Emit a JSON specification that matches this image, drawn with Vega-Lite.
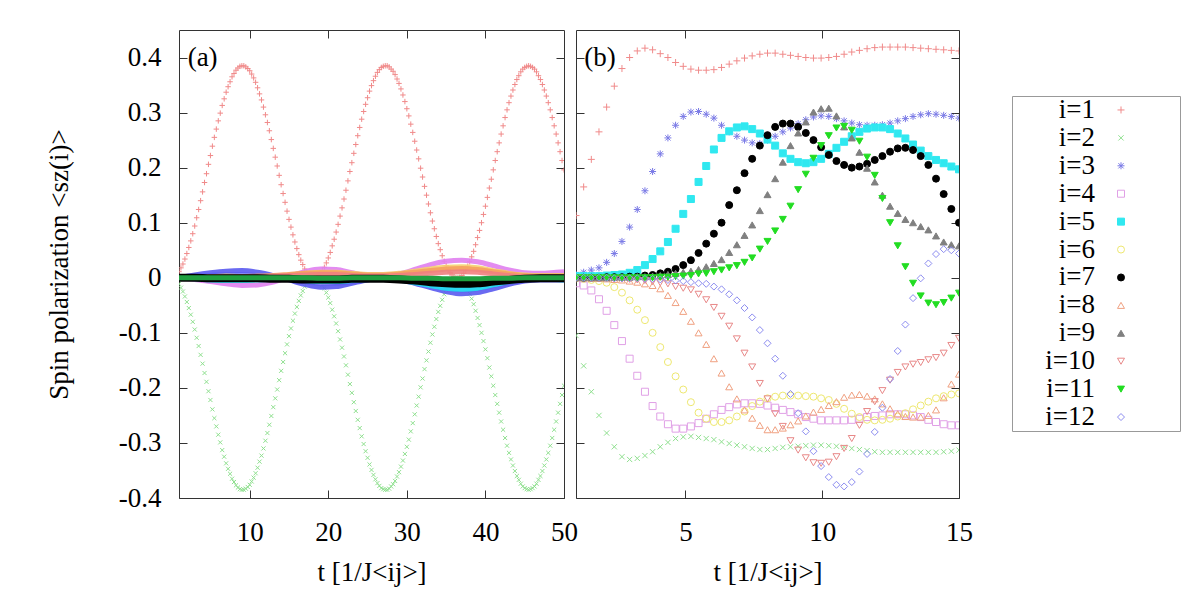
{
"$schema":"https://vega.github.io/schema/vega-lite/v6.json",
"background":"white",
"padding":{"left":44,"top":29,"right":5,"bottom":5},
"config":{"font":"Liberation Serif","view":{"stroke":"#333","strokeWidth":1},
"axis":{"labelFont":"Liberation Serif","titleFont":"Liberation Serif","labelFontSize":27,"titleFontSize":27,"titleFontWeight":"normal","labelColor":"#000","titleColor":"#000","tickColor":"#333","tickWidth":1,"tickSize":-8,"domain":false,"grid":false}},
"datasets":{
"leg":[{"i":1,"lab":"i=1"},{"i":2,"lab":"i=2"},{"i":3,"lab":"i=3"},{"i":4,"lab":"i=4"},{"i":5,"lab":"i=5"},{"i":6,"lab":"i=6"},{"i":7,"lab":"i=7"},{"i":8,"lab":"i=8"},{"i":9,"lab":"i=9"},{"i":10,"lab":"i=10"},{"i":11,"lab":"i=11"},{"i":12,"lab":"i=12"}],
"a":[
{"i":1,"t":1,"v":0.011},{"i":1,"t":1.25,"v":0.018},{"i":1,"t":1.5,"v":0.025},{"i":1,"t":1.75,"v":0.034},{"i":1,"t":2,"v":0.044},{"i":1,"t":2.25,"v":0.055},{"i":1,"t":2.5,"v":0.067},{"i":1,"t":2.75,"v":0.08},{"i":1,"t":3,"v":0.094},{"i":1,"t":3.25,"v":0.109},
{"i":1,"t":3.5,"v":0.124},{"i":1,"t":3.75,"v":0.14},{"i":1,"t":4,"v":0.156},{"i":1,"t":4.25,"v":0.173},{"i":1,"t":4.5,"v":0.189},{"i":1,"t":4.75,"v":0.206},{"i":1,"t":5,"v":0.222},{"i":1,"t":5.25,"v":0.239},{"i":1,"t":5.5,"v":0.255},{"i":1,"t":5.75,"v":0.27},
{"i":1,"t":6,"v":0.285},{"i":1,"t":6.25,"v":0.299},{"i":1,"t":6.5,"v":0.313},{"i":1,"t":6.75,"v":0.325},{"i":1,"t":7,"v":0.337},{"i":1,"t":7.25,"v":0.347},{"i":1,"t":7.5,"v":0.356},{"i":1,"t":7.75,"v":0.365},{"i":1,"t":8,"v":0.371},{"i":1,"t":8.25,"v":0.377},
{"i":1,"t":8.5,"v":0.381},{"i":1,"t":8.75,"v":0.384},{"i":1,"t":9,"v":0.385},{"i":1,"t":9.25,"v":0.385},{"i":1,"t":9.5,"v":0.383},{"i":1,"t":9.75,"v":0.38},{"i":1,"t":10,"v":0.376},{"i":1,"t":10.25,"v":0.37},{"i":1,"t":10.5,"v":0.363},{"i":1,"t":10.75,"v":0.355},
{"i":1,"t":11,"v":0.345},{"i":1,"t":11.25,"v":0.334},{"i":1,"t":11.5,"v":0.323},{"i":1,"t":11.75,"v":0.31},{"i":1,"t":12,"v":0.296},{"i":1,"t":12.25,"v":0.282},{"i":1,"t":12.5,"v":0.267},{"i":1,"t":12.75,"v":0.251},{"i":1,"t":13,"v":0.235},{"i":1,"t":13.25,"v":0.219},
{"i":1,"t":13.5,"v":0.203},{"i":1,"t":13.75,"v":0.186},{"i":1,"t":14,"v":0.169},{"i":1,"t":14.25,"v":0.153},{"i":1,"t":14.5,"v":0.137},{"i":1,"t":14.75,"v":0.121},{"i":1,"t":15,"v":0.106},{"i":1,"t":15.25,"v":0.092},{"i":1,"t":15.5,"v":0.078},{"i":1,"t":15.75,"v":0.065},
{"i":1,"t":16,"v":0.053},{"i":1,"t":16.25,"v":0.042},{"i":1,"t":16.5,"v":0.032},{"i":1,"t":16.75,"v":0.024},{"i":1,"t":17,"v":0.016},{"i":1,"t":17.25,"v":0.01},{"i":1,"t":17.5,"v":0.006},{"i":1,"t":17.75,"v":0.002},{"i":1,"t":18,"v":0.001},{"i":1,"t":18.25,"v":0},
{"i":1,"t":18.5,"v":0.001},{"i":1,"t":18.75,"v":0.004},{"i":1,"t":19,"v":0.007},{"i":1,"t":19.25,"v":0.013},{"i":1,"t":19.5,"v":0.019},{"i":1,"t":19.75,"v":0.027},{"i":1,"t":20,"v":0.036},{"i":1,"t":20.25,"v":0.046},{"i":1,"t":20.5,"v":0.058},{"i":1,"t":20.75,"v":0.07},
{"i":1,"t":21,"v":0.083},{"i":1,"t":21.25,"v":0.097},{"i":1,"t":21.5,"v":0.112},{"i":1,"t":21.75,"v":0.127},{"i":1,"t":22,"v":0.143},{"i":1,"t":22.25,"v":0.159},{"i":1,"t":22.5,"v":0.176},{"i":1,"t":22.75,"v":0.193},{"i":1,"t":23,"v":0.209},{"i":1,"t":23.25,"v":0.226},
{"i":1,"t":23.5,"v":0.242},{"i":1,"t":23.75,"v":0.258},{"i":1,"t":24,"v":0.273},{"i":1,"t":24.25,"v":0.288},{"i":1,"t":24.5,"v":0.302},{"i":1,"t":24.75,"v":0.315},{"i":1,"t":25,"v":0.327},{"i":1,"t":25.25,"v":0.339},{"i":1,"t":25.5,"v":0.349},{"i":1,"t":25.75,"v":0.358},
{"i":1,"t":26,"v":0.366},{"i":1,"t":26.25,"v":0.373},{"i":1,"t":26.5,"v":0.378},{"i":1,"t":26.75,"v":0.382},{"i":1,"t":27,"v":0.384},{"i":1,"t":27.25,"v":0.385},{"i":1,"t":27.5,"v":0.385},{"i":1,"t":27.75,"v":0.383},{"i":1,"t":28,"v":0.379},{"i":1,"t":28.25,"v":0.375},
{"i":1,"t":28.5,"v":0.369},{"i":1,"t":28.75,"v":0.361},{"i":1,"t":29,"v":0.353},{"i":1,"t":29.25,"v":0.343},{"i":1,"t":29.5,"v":0.332},{"i":1,"t":29.75,"v":0.32},{"i":1,"t":30,"v":0.307},{"i":1,"t":30.25,"v":0.294},{"i":1,"t":30.5,"v":0.279},{"i":1,"t":30.75,"v":0.264},
{"i":1,"t":31,"v":0.248},{"i":1,"t":31.25,"v":0.232},{"i":1,"t":31.5,"v":0.216},{"i":1,"t":31.75,"v":0.199},{"i":1,"t":32,"v":0.183},{"i":1,"t":32.25,"v":0.166},{"i":1,"t":32.5,"v":0.15},{"i":1,"t":32.75,"v":0.134},{"i":1,"t":33,"v":0.118},{"i":1,"t":33.25,"v":0.103},
{"i":1,"t":33.5,"v":0.089},{"i":1,"t":33.75,"v":0.075},{"i":1,"t":34,"v":0.062},{"i":1,"t":34.25,"v":0.051},{"i":1,"t":34.5,"v":0.04},{"i":1,"t":34.75,"v":0.03},{"i":1,"t":35,"v":0.022},{"i":1,"t":35.25,"v":0.015},{"i":1,"t":35.5,"v":0.009},{"i":1,"t":35.75,"v":0.005},
{"i":1,"t":36,"v":0.002},{"i":1,"t":36.25,"v":0},{"i":1,"t":36.5,"v":0},{"i":1,"t":36.75,"v":0.001},{"i":1,"t":37,"v":0.004},{"i":1,"t":37.25,"v":0.008},{"i":1,"t":37.5,"v":0.014},{"i":1,"t":37.75,"v":0.021},{"i":1,"t":38,"v":0.029},{"i":1,"t":38.25,"v":0.038},
{"i":1,"t":38.5,"v":0.048},{"i":1,"t":38.75,"v":0.06},{"i":1,"t":39,"v":0.073},{"i":1,"t":39.25,"v":0.086},{"i":1,"t":39.5,"v":0.1},{"i":1,"t":39.75,"v":0.115},{"i":1,"t":40,"v":0.13},{"i":1,"t":40.25,"v":0.146},{"i":1,"t":40.5,"v":0.163},{"i":1,"t":40.75,"v":0.179},
{"i":1,"t":41,"v":0.196},{"i":1,"t":41.25,"v":0.213},{"i":1,"t":41.5,"v":0.229},{"i":1,"t":41.75,"v":0.245},{"i":1,"t":42,"v":0.261},{"i":1,"t":42.25,"v":0.276},{"i":1,"t":42.5,"v":0.291},{"i":1,"t":42.75,"v":0.305},{"i":1,"t":43,"v":0.318},{"i":1,"t":43.25,"v":0.33},
{"i":1,"t":43.5,"v":0.341},{"i":1,"t":43.75,"v":0.351},{"i":1,"t":44,"v":0.36},{"i":1,"t":44.25,"v":0.367},{"i":1,"t":44.5,"v":0.374},{"i":1,"t":44.75,"v":0.379},{"i":1,"t":45,"v":0.382},{"i":1,"t":45.25,"v":0.384},{"i":1,"t":45.5,"v":0.385},{"i":1,"t":45.75,"v":0.384},
{"i":1,"t":46,"v":0.382},{"i":1,"t":46.25,"v":0.379},{"i":1,"t":46.5,"v":0.374},{"i":1,"t":46.75,"v":0.367},{"i":1,"t":47,"v":0.36},{"i":1,"t":47.25,"v":0.351},{"i":1,"t":47.5,"v":0.341},{"i":1,"t":47.75,"v":0.33},{"i":1,"t":48,"v":0.318},{"i":1,"t":48.25,"v":0.305},
{"i":1,"t":48.5,"v":0.291},{"i":1,"t":48.75,"v":0.276},{"i":1,"t":49,"v":0.261},{"i":1,"t":49.25,"v":0.245},{"i":1,"t":49.5,"v":0.229},{"i":1,"t":49.75,"v":0.213},{"i":1,"t":50,"v":0.196},
{"i":2,"t":1,"v":-0.011},{"i":2,"t":1.25,"v":-0.018},{"i":2,"t":1.5,"v":-0.025},{"i":2,"t":1.75,"v":-0.034},{"i":2,"t":2,"v":-0.044},{"i":2,"t":2.25,"v":-0.055},{"i":2,"t":2.5,"v":-0.067},{"i":2,"t":2.75,"v":-0.08},{"i":2,"t":3,"v":-0.094},{"i":2,"t":3.25,"v":-0.109},
{"i":2,"t":3.5,"v":-0.124},{"i":2,"t":3.75,"v":-0.14},{"i":2,"t":4,"v":-0.156},{"i":2,"t":4.25,"v":-0.173},{"i":2,"t":4.5,"v":-0.189},{"i":2,"t":4.75,"v":-0.206},{"i":2,"t":5,"v":-0.222},{"i":2,"t":5.25,"v":-0.239},{"i":2,"t":5.5,"v":-0.255},{"i":2,"t":5.75,"v":-0.27},
{"i":2,"t":6,"v":-0.285},{"i":2,"t":6.25,"v":-0.299},{"i":2,"t":6.5,"v":-0.313},{"i":2,"t":6.75,"v":-0.325},{"i":2,"t":7,"v":-0.337},{"i":2,"t":7.25,"v":-0.347},{"i":2,"t":7.5,"v":-0.356},{"i":2,"t":7.75,"v":-0.365},{"i":2,"t":8,"v":-0.371},{"i":2,"t":8.25,"v":-0.377},
{"i":2,"t":8.5,"v":-0.381},{"i":2,"t":8.75,"v":-0.384},{"i":2,"t":9,"v":-0.385},{"i":2,"t":9.25,"v":-0.385},{"i":2,"t":9.5,"v":-0.383},{"i":2,"t":9.75,"v":-0.38},{"i":2,"t":10,"v":-0.376},{"i":2,"t":10.25,"v":-0.37},{"i":2,"t":10.5,"v":-0.363},{"i":2,"t":10.75,"v":-0.355},
{"i":2,"t":11,"v":-0.345},{"i":2,"t":11.25,"v":-0.334},{"i":2,"t":11.5,"v":-0.323},{"i":2,"t":11.75,"v":-0.31},{"i":2,"t":12,"v":-0.296},{"i":2,"t":12.25,"v":-0.282},{"i":2,"t":12.5,"v":-0.267},{"i":2,"t":12.75,"v":-0.251},{"i":2,"t":13,"v":-0.235},{"i":2,"t":13.25,"v":-0.219},
{"i":2,"t":13.5,"v":-0.203},{"i":2,"t":13.75,"v":-0.186},{"i":2,"t":14,"v":-0.169},{"i":2,"t":14.25,"v":-0.153},{"i":2,"t":14.5,"v":-0.137},{"i":2,"t":14.75,"v":-0.121},{"i":2,"t":15,"v":-0.106},{"i":2,"t":15.25,"v":-0.092},{"i":2,"t":15.5,"v":-0.078},{"i":2,"t":15.75,"v":-0.065},
{"i":2,"t":16,"v":-0.053},{"i":2,"t":16.25,"v":-0.042},{"i":2,"t":16.5,"v":-0.032},{"i":2,"t":16.75,"v":-0.024},{"i":2,"t":17,"v":-0.016},{"i":2,"t":17.25,"v":-0.01},{"i":2,"t":17.5,"v":-0.006},{"i":2,"t":17.75,"v":-0.002},{"i":2,"t":18,"v":-0.001},{"i":2,"t":18.25,"v":0},
{"i":2,"t":18.5,"v":-0.001},{"i":2,"t":18.75,"v":-0.004},{"i":2,"t":19,"v":-0.007},{"i":2,"t":19.25,"v":-0.013},{"i":2,"t":19.5,"v":-0.019},{"i":2,"t":19.75,"v":-0.027},{"i":2,"t":20,"v":-0.036},{"i":2,"t":20.25,"v":-0.046},{"i":2,"t":20.5,"v":-0.058},{"i":2,"t":20.75,"v":-0.07},
{"i":2,"t":21,"v":-0.083},{"i":2,"t":21.25,"v":-0.097},{"i":2,"t":21.5,"v":-0.112},{"i":2,"t":21.75,"v":-0.127},{"i":2,"t":22,"v":-0.143},{"i":2,"t":22.25,"v":-0.159},{"i":2,"t":22.5,"v":-0.176},{"i":2,"t":22.75,"v":-0.193},{"i":2,"t":23,"v":-0.209},{"i":2,"t":23.25,"v":-0.226},
{"i":2,"t":23.5,"v":-0.242},{"i":2,"t":23.75,"v":-0.258},{"i":2,"t":24,"v":-0.273},{"i":2,"t":24.25,"v":-0.288},{"i":2,"t":24.5,"v":-0.302},{"i":2,"t":24.75,"v":-0.315},{"i":2,"t":25,"v":-0.327},{"i":2,"t":25.25,"v":-0.339},{"i":2,"t":25.5,"v":-0.349},{"i":2,"t":25.75,"v":-0.358},
{"i":2,"t":26,"v":-0.366},{"i":2,"t":26.25,"v":-0.373},{"i":2,"t":26.5,"v":-0.378},{"i":2,"t":26.75,"v":-0.382},{"i":2,"t":27,"v":-0.384},{"i":2,"t":27.25,"v":-0.385},{"i":2,"t":27.5,"v":-0.385},{"i":2,"t":27.75,"v":-0.383},{"i":2,"t":28,"v":-0.379},{"i":2,"t":28.25,"v":-0.375},
{"i":2,"t":28.5,"v":-0.369},{"i":2,"t":28.75,"v":-0.361},{"i":2,"t":29,"v":-0.353},{"i":2,"t":29.25,"v":-0.343},{"i":2,"t":29.5,"v":-0.332},{"i":2,"t":29.75,"v":-0.32},{"i":2,"t":30,"v":-0.307},{"i":2,"t":30.25,"v":-0.294},{"i":2,"t":30.5,"v":-0.279},{"i":2,"t":30.75,"v":-0.264},
{"i":2,"t":31,"v":-0.248},{"i":2,"t":31.25,"v":-0.232},{"i":2,"t":31.5,"v":-0.216},{"i":2,"t":31.75,"v":-0.199},{"i":2,"t":32,"v":-0.183},{"i":2,"t":32.25,"v":-0.166},{"i":2,"t":32.5,"v":-0.15},{"i":2,"t":32.75,"v":-0.134},{"i":2,"t":33,"v":-0.118},{"i":2,"t":33.25,"v":-0.103},
{"i":2,"t":33.5,"v":-0.089},{"i":2,"t":33.75,"v":-0.075},{"i":2,"t":34,"v":-0.062},{"i":2,"t":34.25,"v":-0.051},{"i":2,"t":34.5,"v":-0.04},{"i":2,"t":34.75,"v":-0.03},{"i":2,"t":35,"v":-0.022},{"i":2,"t":35.25,"v":-0.015},{"i":2,"t":35.5,"v":-0.009},{"i":2,"t":35.75,"v":-0.005},
{"i":2,"t":36,"v":-0.002},{"i":2,"t":36.25,"v":0},{"i":2,"t":36.5,"v":0},{"i":2,"t":36.75,"v":-0.001},{"i":2,"t":37,"v":-0.004},{"i":2,"t":37.25,"v":-0.008},{"i":2,"t":37.5,"v":-0.014},{"i":2,"t":37.75,"v":-0.021},{"i":2,"t":38,"v":-0.029},{"i":2,"t":38.25,"v":-0.038},
{"i":2,"t":38.5,"v":-0.048},{"i":2,"t":38.75,"v":-0.06},{"i":2,"t":39,"v":-0.073},{"i":2,"t":39.25,"v":-0.086},{"i":2,"t":39.5,"v":-0.1},{"i":2,"t":39.75,"v":-0.115},{"i":2,"t":40,"v":-0.13},{"i":2,"t":40.25,"v":-0.146},{"i":2,"t":40.5,"v":-0.163},{"i":2,"t":40.75,"v":-0.179},
{"i":2,"t":41,"v":-0.196},{"i":2,"t":41.25,"v":-0.213},{"i":2,"t":41.5,"v":-0.229},{"i":2,"t":41.75,"v":-0.245},{"i":2,"t":42,"v":-0.261},{"i":2,"t":42.25,"v":-0.276},{"i":2,"t":42.5,"v":-0.291},{"i":2,"t":42.75,"v":-0.305},{"i":2,"t":43,"v":-0.318},{"i":2,"t":43.25,"v":-0.33},
{"i":2,"t":43.5,"v":-0.341},{"i":2,"t":43.75,"v":-0.351},{"i":2,"t":44,"v":-0.36},{"i":2,"t":44.25,"v":-0.367},{"i":2,"t":44.5,"v":-0.374},{"i":2,"t":44.75,"v":-0.379},{"i":2,"t":45,"v":-0.382},{"i":2,"t":45.25,"v":-0.384},{"i":2,"t":45.5,"v":-0.385},{"i":2,"t":45.75,"v":-0.384},
{"i":2,"t":46,"v":-0.382},{"i":2,"t":46.25,"v":-0.379},{"i":2,"t":46.5,"v":-0.374},{"i":2,"t":46.75,"v":-0.367},{"i":2,"t":47,"v":-0.36},{"i":2,"t":47.25,"v":-0.351},{"i":2,"t":47.5,"v":-0.341},{"i":2,"t":47.75,"v":-0.33},{"i":2,"t":48,"v":-0.318},{"i":2,"t":48.25,"v":-0.305},
{"i":2,"t":48.5,"v":-0.291},{"i":2,"t":48.75,"v":-0.276},{"i":2,"t":49,"v":-0.261},{"i":2,"t":49.25,"v":-0.245},{"i":2,"t":49.5,"v":-0.229},{"i":2,"t":49.75,"v":-0.213},{"i":2,"t":50,"v":-0.196}
],
"al":[
{"i":12,"t":1,"v":0},{"i":12,"t":3,"v":0.002},{"i":12,"t":5,"v":0.004},{"i":12,"t":7,"v":0.006},{"i":12,"t":9,"v":0.006},{"i":12,"t":11,"v":0.004},{"i":12,"t":13,"v":0.001},{"i":12,"t":15,"v":-0.003},{"i":12,"t":17,"v":-0.007},{"i":12,"t":19,"v":-0.01},{"i":12,"t":21,"v":-0.01},{"i":12,"t":23,"v":-0.007},{"i":12,"t":25,"v":-0.003},{"i":12,"t":27,"v":-0.001},{"i":12,"t":29,"v":-0.003},{"i":12,"t":31,"v":-0.008},{"i":12,"t":33,"v":-0.014},{"i":12,"t":35,"v":-0.019},{"i":12,"t":37,"v":-0.022},{"i":12,"t":39,"v":-0.02},{"i":12,"t":41,"v":-0.014},{"i":12,"t":43,"v":-0.008},{"i":12,"t":45,"v":-0.004},{"i":12,"t":47,"v":-0.002},{"i":12,"t":49,"v":-0.002},{"i":12,"t":50,"v":-0.002},
{"i":3,"t":1,"v":0},{"i":3,"t":3,"v":0.005},{"i":3,"t":5,"v":0.009},{"i":3,"t":7,"v":0.012},{"i":3,"t":9,"v":0.013},{"i":3,"t":11,"v":0.01},{"i":3,"t":13,"v":0.004},{"i":3,"t":15,"v":-0.004},{"i":3,"t":17,"v":-0.012},{"i":3,"t":19,"v":-0.017},{"i":3,"t":21,"v":-0.016},{"i":3,"t":23,"v":-0.01},{"i":3,"t":25,"v":-0.004},{"i":3,"t":27,"v":0},{"i":3,"t":29,"v":-0.003},{"i":3,"t":31,"v":-0.01},{"i":3,"t":33,"v":-0.018},{"i":3,"t":35,"v":-0.025},{"i":3,"t":37,"v":-0.029},{"i":3,"t":39,"v":-0.027},{"i":3,"t":41,"v":-0.02},{"i":3,"t":43,"v":-0.012},{"i":3,"t":45,"v":-0.006},{"i":3,"t":47,"v":-0.004},{"i":3,"t":49,"v":-0.004},{"i":3,"t":50,"v":-0.004},
{"i":4,"t":1,"v":0},{"i":4,"t":3,"v":-0.003},{"i":4,"t":5,"v":-0.007},{"i":4,"t":7,"v":-0.011},{"i":4,"t":9,"v":-0.014},{"i":4,"t":11,"v":-0.013},{"i":4,"t":13,"v":-0.008},{"i":4,"t":15,"v":0.002},{"i":4,"t":17,"v":0.011},{"i":4,"t":19,"v":0.016},{"i":4,"t":21,"v":0.015},{"i":4,"t":23,"v":0.009},{"i":4,"t":25,"v":0.004},{"i":4,"t":27,"v":0.003},{"i":4,"t":29,"v":0.007},{"i":4,"t":31,"v":0.015},{"i":4,"t":33,"v":0.024},{"i":4,"t":35,"v":0.03},{"i":4,"t":37,"v":0.032},{"i":4,"t":39,"v":0.029},{"i":4,"t":41,"v":0.022},{"i":4,"t":43,"v":0.014},{"i":4,"t":45,"v":0.009},{"i":4,"t":47,"v":0.008},{"i":4,"t":49,"v":0.01},{"i":4,"t":50,"v":0.011},
{"i":6,"t":1,"v":0},{"i":6,"t":3,"v":0.001},{"i":6,"t":5,"v":0.002},{"i":6,"t":7,"v":0.003},{"i":6,"t":9,"v":0.002},{"i":6,"t":11,"v":0.001},{"i":6,"t":13,"v":0.002},{"i":6,"t":15,"v":0.005},{"i":6,"t":17,"v":0.008},{"i":6,"t":19,"v":0.01},{"i":6,"t":21,"v":0.01},{"i":6,"t":23,"v":0.008},{"i":6,"t":25,"v":0.006},{"i":6,"t":27,"v":0.006},{"i":6,"t":29,"v":0.008},{"i":6,"t":31,"v":0.012},{"i":6,"t":33,"v":0.016},{"i":6,"t":35,"v":0.019},{"i":6,"t":37,"v":0.02},{"i":6,"t":39,"v":0.018},{"i":6,"t":41,"v":0.013},{"i":6,"t":43,"v":0.008},{"i":6,"t":45,"v":0.005},{"i":6,"t":47,"v":0.004},{"i":6,"t":49,"v":0.004},{"i":6,"t":50,"v":0.004},
{"i":8,"t":1,"v":0},{"i":8,"t":3,"v":0},{"i":8,"t":5,"v":0.001},{"i":8,"t":7,"v":0.002},{"i":8,"t":9,"v":0.002},{"i":8,"t":11,"v":0.003},{"i":8,"t":13,"v":0.004},{"i":8,"t":15,"v":0.006},{"i":8,"t":17,"v":0.008},{"i":8,"t":19,"v":0.009},{"i":8,"t":21,"v":0.009},{"i":8,"t":23,"v":0.007},{"i":8,"t":25,"v":0.005},{"i":8,"t":27,"v":0.005},{"i":8,"t":29,"v":0.007},{"i":8,"t":31,"v":0.01},{"i":8,"t":33,"v":0.013},{"i":8,"t":35,"v":0.016},{"i":8,"t":37,"v":0.017},{"i":8,"t":39,"v":0.015},{"i":8,"t":41,"v":0.011},{"i":8,"t":43,"v":0.007},{"i":8,"t":45,"v":0.004},{"i":8,"t":47,"v":0.003},{"i":8,"t":49,"v":0.003},{"i":8,"t":50,"v":0.003},
{"i":10,"t":1,"v":0},{"i":10,"t":3,"v":0},{"i":10,"t":5,"v":0.001},{"i":10,"t":7,"v":0.001},{"i":10,"t":9,"v":0.001},{"i":10,"t":11,"v":0.002},{"i":10,"t":13,"v":0.003},{"i":10,"t":15,"v":0.004},{"i":10,"t":17,"v":0.005},{"i":10,"t":19,"v":0.006},{"i":10,"t":21,"v":0.006},{"i":10,"t":23,"v":0.004},{"i":10,"t":25,"v":0.003},{"i":10,"t":27,"v":0.003},{"i":10,"t":29,"v":0.004},{"i":10,"t":31,"v":0.006},{"i":10,"t":33,"v":0.008},{"i":10,"t":35,"v":0.01},{"i":10,"t":37,"v":0.011},{"i":10,"t":39,"v":0.01},{"i":10,"t":41,"v":0.007},{"i":10,"t":43,"v":0.004},{"i":10,"t":45,"v":0.002},{"i":10,"t":47,"v":0.002},{"i":10,"t":49,"v":0.002},{"i":10,"t":50,"v":0.002},
{"i":5,"t":1,"v":0},{"i":5,"t":3,"v":-0.002},{"i":5,"t":5,"v":-0.004},{"i":5,"t":7,"v":-0.005},{"i":5,"t":9,"v":-0.005},{"i":5,"t":11,"v":-0.004},{"i":5,"t":13,"v":-0.003},{"i":5,"t":15,"v":-0.003},{"i":5,"t":17,"v":-0.005},{"i":5,"t":19,"v":-0.007},{"i":5,"t":21,"v":-0.007},{"i":5,"t":23,"v":-0.005},{"i":5,"t":25,"v":-0.003},{"i":5,"t":27,"v":-0.002},{"i":5,"t":29,"v":-0.004},{"i":5,"t":31,"v":-0.009},{"i":5,"t":33,"v":-0.014},{"i":5,"t":35,"v":-0.019},{"i":5,"t":37,"v":-0.021},{"i":5,"t":39,"v":-0.019},{"i":5,"t":41,"v":-0.013},{"i":5,"t":43,"v":-0.007},{"i":5,"t":45,"v":-0.003},{"i":5,"t":47,"v":-0.002},{"i":5,"t":49,"v":-0.003},{"i":5,"t":50,"v":-0.004},
{"i":9,"t":1,"v":0},{"i":9,"t":3,"v":0},{"i":9,"t":5,"v":0},{"i":9,"t":7,"v":0.001},{"i":9,"t":9,"v":0.001},{"i":9,"t":11,"v":0.001},{"i":9,"t":13,"v":0.001},{"i":9,"t":15,"v":0},{"i":9,"t":17,"v":-0.001},{"i":9,"t":19,"v":-0.002},{"i":9,"t":21,"v":-0.002},{"i":9,"t":23,"v":-0.001},{"i":9,"t":25,"v":0},{"i":9,"t":27,"v":0},{"i":9,"t":29,"v":-0.001},{"i":9,"t":31,"v":-0.002},{"i":9,"t":33,"v":-0.003},{"i":9,"t":35,"v":-0.004},{"i":9,"t":37,"v":-0.005},{"i":9,"t":39,"v":-0.004},{"i":9,"t":41,"v":-0.003},{"i":9,"t":43,"v":-0.002},{"i":9,"t":45,"v":-0.001},{"i":9,"t":47,"v":0},{"i":9,"t":49,"v":0},{"i":9,"t":50,"v":0},
{"i":7,"t":1,"v":0},{"i":7,"t":3,"v":0},{"i":7,"t":5,"v":-0.001},{"i":7,"t":7,"v":-0.001},{"i":7,"t":9,"v":-0.001},{"i":7,"t":11,"v":-0.001},{"i":7,"t":13,"v":-0.002},{"i":7,"t":15,"v":-0.002},{"i":7,"t":17,"v":-0.003},{"i":7,"t":19,"v":-0.003},{"i":7,"t":21,"v":-0.003},{"i":7,"t":23,"v":-0.002},{"i":7,"t":25,"v":-0.002},{"i":7,"t":27,"v":-0.002},{"i":7,"t":29,"v":-0.003},{"i":7,"t":31,"v":-0.005},{"i":7,"t":33,"v":-0.008},{"i":7,"t":35,"v":-0.01},{"i":7,"t":37,"v":-0.011},{"i":7,"t":39,"v":-0.01},{"i":7,"t":41,"v":-0.007},{"i":7,"t":43,"v":-0.004},{"i":7,"t":45,"v":-0.002},{"i":7,"t":47,"v":-0.001},{"i":7,"t":49,"v":-0.001},{"i":7,"t":50,"v":-0.001},
{"i":11,"t":1,"v":0},{"i":11,"t":3,"v":0},{"i":11,"t":5,"v":0},{"i":11,"t":7,"v":0},{"i":11,"t":9,"v":0},{"i":11,"t":11,"v":0},{"i":11,"t":13,"v":0},{"i":11,"t":15,"v":0},{"i":11,"t":17,"v":0},{"i":11,"t":19,"v":-0.001},{"i":11,"t":21,"v":-0.001},{"i":11,"t":23,"v":0},{"i":11,"t":25,"v":0},{"i":11,"t":27,"v":0},{"i":11,"t":29,"v":0},{"i":11,"t":31,"v":-0.001},{"i":11,"t":33,"v":-0.001},{"i":11,"t":35,"v":-0.002},{"i":11,"t":37,"v":-0.002},{"i":11,"t":39,"v":-0.002},{"i":11,"t":41,"v":-0.001},{"i":11,"t":43,"v":-0.001},{"i":11,"t":45,"v":0},{"i":11,"t":47,"v":0},{"i":11,"t":49,"v":0},{"i":11,"t":50,"v":0}
],
"b":[
{"i":1,"t":1,"v":0.113},{"i":1,"t":1.28,"v":0.165},{"i":1,"t":1.56,"v":0.215},{"i":1,"t":1.84,"v":0.265},{"i":1,"t":2.12,"v":0.31},{"i":1,"t":2.4,"v":0.348},{"i":1,"t":2.68,"v":0.38},{"i":1,"t":2.96,"v":0.4},{"i":1,"t":3.24,"v":0.412},{"i":1,"t":3.52,"v":0.417},
{"i":1,"t":3.8,"v":0.414},{"i":1,"t":4.08,"v":0.407},{"i":1,"t":4.36,"v":0.4},{"i":1,"t":4.64,"v":0.391},{"i":1,"t":4.92,"v":0.384},{"i":1,"t":5.2,"v":0.379},{"i":1,"t":5.48,"v":0.377},{"i":1,"t":5.76,"v":0.377},{"i":1,"t":6.04,"v":0.378},{"i":1,"t":6.32,"v":0.382},
{"i":1,"t":6.6,"v":0.388},{"i":1,"t":6.88,"v":0.394},{"i":1,"t":7.16,"v":0.399},{"i":1,"t":7.44,"v":0.403},{"i":1,"t":7.72,"v":0.406},{"i":1,"t":8,"v":0.408},{"i":1,"t":8.28,"v":0.408},{"i":1,"t":8.56,"v":0.406},{"i":1,"t":8.84,"v":0.404},{"i":1,"t":9.12,"v":0.402},
{"i":1,"t":9.4,"v":0.4},{"i":1,"t":9.68,"v":0.399},{"i":1,"t":9.96,"v":0.399},{"i":1,"t":10.24,"v":0.4},{"i":1,"t":10.52,"v":0.402},{"i":1,"t":10.8,"v":0.406},{"i":1,"t":11.08,"v":0.41},{"i":1,"t":11.36,"v":0.413},{"i":1,"t":11.64,"v":0.416},{"i":1,"t":11.92,"v":0.418},
{"i":1,"t":12.2,"v":0.419},{"i":1,"t":12.48,"v":0.419},{"i":1,"t":12.76,"v":0.419},{"i":1,"t":13.04,"v":0.419},{"i":1,"t":13.32,"v":0.418},{"i":1,"t":13.6,"v":0.417},{"i":1,"t":13.88,"v":0.416},{"i":1,"t":14.16,"v":0.415},{"i":1,"t":14.44,"v":0.414},{"i":1,"t":14.72,"v":0.413},{"i":1,"t":15,"v":0.412},
{"i":2,"t":1,"v":-0.105},{"i":2,"t":1.28,"v":-0.16},{"i":2,"t":1.56,"v":-0.207},{"i":2,"t":1.84,"v":-0.25},{"i":2,"t":2.12,"v":-0.282},{"i":2,"t":2.4,"v":-0.307},{"i":2,"t":2.68,"v":-0.325},{"i":2,"t":2.96,"v":-0.33},{"i":2,"t":3.24,"v":-0.328},{"i":2,"t":3.52,"v":-0.323},
{"i":2,"t":3.8,"v":-0.316},{"i":2,"t":4.08,"v":-0.307},{"i":2,"t":4.36,"v":-0.299},{"i":2,"t":4.64,"v":-0.292},{"i":2,"t":4.92,"v":-0.289},{"i":2,"t":5.2,"v":-0.288},{"i":2,"t":5.48,"v":-0.29},{"i":2,"t":5.76,"v":-0.292},{"i":2,"t":6.04,"v":-0.294},{"i":2,"t":6.32,"v":-0.298},
{"i":2,"t":6.6,"v":-0.301},{"i":2,"t":6.88,"v":-0.304},{"i":2,"t":7.16,"v":-0.307},{"i":2,"t":7.44,"v":-0.31},{"i":2,"t":7.72,"v":-0.312},{"i":2,"t":8,"v":-0.312},{"i":2,"t":8.28,"v":-0.31},{"i":2,"t":8.56,"v":-0.308},{"i":2,"t":8.84,"v":-0.307},{"i":2,"t":9.12,"v":-0.306},
{"i":2,"t":9.4,"v":-0.305},{"i":2,"t":9.68,"v":-0.304},{"i":2,"t":9.96,"v":-0.304},{"i":2,"t":10.24,"v":-0.305},{"i":2,"t":10.52,"v":-0.306},{"i":2,"t":10.8,"v":-0.308},{"i":2,"t":11.08,"v":-0.31},{"i":2,"t":11.36,"v":-0.312},{"i":2,"t":11.64,"v":-0.314},{"i":2,"t":11.92,"v":-0.316},
{"i":2,"t":12.2,"v":-0.317},{"i":2,"t":12.48,"v":-0.317},{"i":2,"t":12.76,"v":-0.317},{"i":2,"t":13.04,"v":-0.317},{"i":2,"t":13.32,"v":-0.317},{"i":2,"t":13.6,"v":-0.317},{"i":2,"t":13.88,"v":-0.317},{"i":2,"t":14.16,"v":-0.317},{"i":2,"t":14.44,"v":-0.316},{"i":2,"t":14.72,"v":-0.315},{"i":2,"t":15,"v":-0.313},
{"i":3,"t":1,"v":0.006},{"i":3,"t":1.28,"v":0.01},{"i":3,"t":1.56,"v":0.014},{"i":3,"t":1.84,"v":0.018},{"i":3,"t":2.12,"v":0.028},{"i":3,"t":2.4,"v":0.044},{"i":3,"t":2.68,"v":0.066},{"i":3,"t":2.96,"v":0.092},{"i":3,"t":3.24,"v":0.124},{"i":3,"t":3.52,"v":0.158},
{"i":3,"t":3.8,"v":0.193},{"i":3,"t":4.08,"v":0.225},{"i":3,"t":4.36,"v":0.254},{"i":3,"t":4.64,"v":0.277},{"i":3,"t":4.92,"v":0.293},{"i":3,"t":5.2,"v":0.301},{"i":3,"t":5.48,"v":0.302},{"i":3,"t":5.76,"v":0.297},{"i":3,"t":6.04,"v":0.29},{"i":3,"t":6.32,"v":0.277},
{"i":3,"t":6.6,"v":0.265},{"i":3,"t":6.88,"v":0.257},{"i":3,"t":7.16,"v":0.25},{"i":3,"t":7.44,"v":0.245},{"i":3,"t":7.72,"v":0.244},{"i":3,"t":8,"v":0.25},{"i":3,"t":8.28,"v":0.257},{"i":3,"t":8.56,"v":0.265},{"i":3,"t":8.84,"v":0.272},{"i":3,"t":9.12,"v":0.28},
{"i":3,"t":9.4,"v":0.287},{"i":3,"t":9.68,"v":0.292},{"i":3,"t":9.96,"v":0.294},{"i":3,"t":10.24,"v":0.293},{"i":3,"t":10.52,"v":0.289},{"i":3,"t":10.8,"v":0.285},{"i":3,"t":11.08,"v":0.281},{"i":3,"t":11.36,"v":0.278},{"i":3,"t":11.64,"v":0.277},{"i":3,"t":11.92,"v":0.277},
{"i":3,"t":12.2,"v":0.278},{"i":3,"t":12.48,"v":0.281},{"i":3,"t":12.76,"v":0.285},{"i":3,"t":13.04,"v":0.289},{"i":3,"t":13.32,"v":0.293},{"i":3,"t":13.6,"v":0.296},{"i":3,"t":13.88,"v":0.298},{"i":3,"t":14.16,"v":0.297},{"i":3,"t":14.44,"v":0.295},{"i":3,"t":14.72,"v":0.293},{"i":3,"t":15,"v":0.29},
{"i":4,"t":1,"v":-0.01},{"i":4,"t":1.28,"v":-0.014},{"i":4,"t":1.56,"v":-0.023},{"i":4,"t":1.84,"v":-0.039},{"i":4,"t":2.12,"v":-0.06},{"i":4,"t":2.4,"v":-0.086},{"i":4,"t":2.68,"v":-0.115},{"i":4,"t":2.96,"v":-0.147},{"i":4,"t":3.24,"v":-0.178},{"i":4,"t":3.52,"v":-0.207},
{"i":4,"t":3.8,"v":-0.233},{"i":4,"t":4.08,"v":-0.252},{"i":4,"t":4.36,"v":-0.266},{"i":4,"t":4.64,"v":-0.274},{"i":4,"t":4.92,"v":-0.274},{"i":4,"t":5.2,"v":-0.27},{"i":4,"t":5.48,"v":-0.264},{"i":4,"t":5.76,"v":-0.256},{"i":4,"t":6.04,"v":-0.248},{"i":4,"t":6.32,"v":-0.24},
{"i":4,"t":6.6,"v":-0.235},{"i":4,"t":6.88,"v":-0.23},{"i":4,"t":7.16,"v":-0.228},{"i":4,"t":7.44,"v":-0.228},{"i":4,"t":7.72,"v":-0.229},{"i":4,"t":8,"v":-0.232},{"i":4,"t":8.28,"v":-0.236},{"i":4,"t":8.56,"v":-0.24},{"i":4,"t":8.84,"v":-0.244},{"i":4,"t":9.12,"v":-0.248},
{"i":4,"t":9.4,"v":-0.253},{"i":4,"t":9.68,"v":-0.256},{"i":4,"t":9.96,"v":-0.259},{"i":4,"t":10.24,"v":-0.259},{"i":4,"t":10.52,"v":-0.259},{"i":4,"t":10.8,"v":-0.259},{"i":4,"t":11.08,"v":-0.258},{"i":4,"t":11.36,"v":-0.256},{"i":4,"t":11.64,"v":-0.253},{"i":4,"t":11.92,"v":-0.251},
{"i":4,"t":12.2,"v":-0.25},{"i":4,"t":12.48,"v":-0.248},{"i":4,"t":12.76,"v":-0.248},{"i":4,"t":13.04,"v":-0.248},{"i":4,"t":13.32,"v":-0.25},{"i":4,"t":13.6,"v":-0.253},{"i":4,"t":13.88,"v":-0.258},{"i":4,"t":14.16,"v":-0.262},{"i":4,"t":14.44,"v":-0.266},{"i":4,"t":14.72,"v":-0.268},{"i":4,"t":15,"v":-0.268},
{"i":5,"t":1,"v":0.003},{"i":5,"t":1.28,"v":0.003},{"i":5,"t":1.56,"v":0.003},{"i":5,"t":1.84,"v":0.003},{"i":5,"t":2.12,"v":0.004},{"i":5,"t":2.4,"v":0.005},{"i":5,"t":2.68,"v":0.006},{"i":5,"t":2.96,"v":0.009},{"i":5,"t":3.24,"v":0.014},{"i":5,"t":3.52,"v":0.023},
{"i":5,"t":3.8,"v":0.034},{"i":5,"t":4.08,"v":0.048},{"i":5,"t":4.36,"v":0.065},{"i":5,"t":4.64,"v":0.089},{"i":5,"t":4.92,"v":0.116},{"i":5,"t":5.2,"v":0.143},{"i":5,"t":5.48,"v":0.174},{"i":5,"t":5.76,"v":0.203},{"i":5,"t":6.04,"v":0.233},{"i":5,"t":6.32,"v":0.254},
{"i":5,"t":6.6,"v":0.266},{"i":5,"t":6.88,"v":0.273},{"i":5,"t":7.16,"v":0.275},{"i":5,"t":7.44,"v":0.27},{"i":5,"t":7.72,"v":0.262},{"i":5,"t":8,"v":0.251},{"i":5,"t":8.28,"v":0.24},{"i":5,"t":8.56,"v":0.226},{"i":5,"t":8.84,"v":0.216},{"i":5,"t":9.12,"v":0.21},
{"i":5,"t":9.4,"v":0.208},{"i":5,"t":9.68,"v":0.21},{"i":5,"t":9.96,"v":0.216},{"i":5,"t":10.24,"v":0.225},{"i":5,"t":10.52,"v":0.236},{"i":5,"t":10.8,"v":0.247},{"i":5,"t":11.08,"v":0.257},{"i":5,"t":11.36,"v":0.265},{"i":5,"t":11.64,"v":0.271},{"i":5,"t":11.92,"v":0.273},
{"i":5,"t":12.2,"v":0.273},{"i":5,"t":12.48,"v":0.27},{"i":5,"t":12.76,"v":0.262},{"i":5,"t":13.04,"v":0.253},{"i":5,"t":13.32,"v":0.242},{"i":5,"t":13.6,"v":0.231},{"i":5,"t":13.88,"v":0.221},{"i":5,"t":14.16,"v":0.214},{"i":5,"t":14.44,"v":0.208},{"i":5,"t":14.72,"v":0.202},{"i":5,"t":15,"v":0.197},
{"i":6,"t":1,"v":-0.001},{"i":6,"t":1.28,"v":-0.002},{"i":6,"t":1.56,"v":-0.004},{"i":6,"t":1.84,"v":-0.006},{"i":6,"t":2.12,"v":-0.009},{"i":6,"t":2.4,"v":-0.017},{"i":6,"t":2.68,"v":-0.027},{"i":6,"t":2.96,"v":-0.041},{"i":6,"t":3.24,"v":-0.058},{"i":6,"t":3.52,"v":-0.077},
{"i":6,"t":3.8,"v":-0.1},{"i":6,"t":4.08,"v":-0.126},{"i":6,"t":4.36,"v":-0.153},{"i":6,"t":4.64,"v":-0.179},{"i":6,"t":4.92,"v":-0.203},{"i":6,"t":5.2,"v":-0.226},{"i":6,"t":5.48,"v":-0.245},{"i":6,"t":5.76,"v":-0.256},{"i":6,"t":6.04,"v":-0.262},{"i":6,"t":6.32,"v":-0.262},
{"i":6,"t":6.6,"v":-0.259},{"i":6,"t":6.88,"v":-0.252},{"i":6,"t":7.16,"v":-0.243},{"i":6,"t":7.44,"v":-0.233},{"i":6,"t":7.72,"v":-0.225},{"i":6,"t":8,"v":-0.219},{"i":6,"t":8.28,"v":-0.216},{"i":6,"t":8.56,"v":-0.214},{"i":6,"t":8.84,"v":-0.214},{"i":6,"t":9.12,"v":-0.214},
{"i":6,"t":9.4,"v":-0.215},{"i":6,"t":9.68,"v":-0.216},{"i":6,"t":9.96,"v":-0.219},{"i":6,"t":10.24,"v":-0.222},{"i":6,"t":10.52,"v":-0.229},{"i":6,"t":10.8,"v":-0.238},{"i":6,"t":11.08,"v":-0.247},{"i":6,"t":11.36,"v":-0.253},{"i":6,"t":11.64,"v":-0.258},{"i":6,"t":11.92,"v":-0.259},
{"i":6,"t":12.2,"v":-0.258},{"i":6,"t":12.48,"v":-0.256},{"i":6,"t":12.76,"v":-0.252},{"i":6,"t":13.04,"v":-0.246},{"i":6,"t":13.32,"v":-0.239},{"i":6,"t":13.6,"v":-0.232},{"i":6,"t":13.88,"v":-0.225},{"i":6,"t":14.16,"v":-0.219},{"i":6,"t":14.44,"v":-0.215},{"i":6,"t":14.72,"v":-0.212},{"i":6,"t":15,"v":-0.21},
{"i":7,"t":1,"v":0},{"i":7,"t":1.28,"v":0},{"i":7,"t":1.56,"v":0},{"i":7,"t":1.84,"v":0},{"i":7,"t":2.12,"v":0.001},{"i":7,"t":2.4,"v":0.001},{"i":7,"t":2.68,"v":0.001},{"i":7,"t":2.96,"v":0.002},{"i":7,"t":3.24,"v":0.002},{"i":7,"t":3.52,"v":0.004},
{"i":7,"t":3.8,"v":0.005},{"i":7,"t":4.08,"v":0.008},{"i":7,"t":4.36,"v":0.011},{"i":7,"t":4.64,"v":0.016},{"i":7,"t":4.92,"v":0.023},{"i":7,"t":5.2,"v":0.032},{"i":7,"t":5.48,"v":0.045},{"i":7,"t":5.76,"v":0.062},{"i":7,"t":6.04,"v":0.08},{"i":7,"t":6.32,"v":0.1},
{"i":7,"t":6.6,"v":0.132},{"i":7,"t":6.88,"v":0.159},{"i":7,"t":7.16,"v":0.19},{"i":7,"t":7.44,"v":0.216},{"i":7,"t":7.72,"v":0.24},{"i":7,"t":8,"v":0.259},{"i":7,"t":8.28,"v":0.274},{"i":7,"t":8.56,"v":0.28},{"i":7,"t":8.84,"v":0.28},{"i":7,"t":9.12,"v":0.274},
{"i":7,"t":9.4,"v":0.263},{"i":7,"t":9.68,"v":0.25},{"i":7,"t":9.96,"v":0.237},{"i":7,"t":10.24,"v":0.223},{"i":7,"t":10.52,"v":0.212},{"i":7,"t":10.8,"v":0.205},{"i":7,"t":11.08,"v":0.2},{"i":7,"t":11.36,"v":0.202},{"i":7,"t":11.64,"v":0.207},{"i":7,"t":11.92,"v":0.214},
{"i":7,"t":12.2,"v":0.221},{"i":7,"t":12.48,"v":0.229},{"i":7,"t":12.76,"v":0.235},{"i":7,"t":13.04,"v":0.236},{"i":7,"t":13.32,"v":0.232},{"i":7,"t":13.6,"v":0.221},{"i":7,"t":13.88,"v":0.205},{"i":7,"t":14.16,"v":0.18},{"i":7,"t":14.44,"v":0.152},{"i":7,"t":14.72,"v":0.125},{"i":7,"t":15,"v":0.1},
{"i":8,"t":1,"v":0},{"i":8,"t":1.28,"v":0},{"i":8,"t":1.56,"v":-0.001},{"i":8,"t":1.84,"v":-0.001},{"i":8,"t":2.12,"v":-0.002},{"i":8,"t":2.4,"v":-0.003},{"i":8,"t":2.68,"v":-0.004},{"i":8,"t":2.96,"v":-0.006},{"i":8,"t":3.24,"v":-0.008},{"i":8,"t":3.52,"v":-0.011},
{"i":8,"t":3.8,"v":-0.014},{"i":8,"t":4.08,"v":-0.02},{"i":8,"t":4.36,"v":-0.032},{"i":8,"t":4.64,"v":-0.045},{"i":8,"t":4.92,"v":-0.061},{"i":8,"t":5.2,"v":-0.079},{"i":8,"t":5.48,"v":-0.1},{"i":8,"t":5.76,"v":-0.121},{"i":8,"t":6.04,"v":-0.147},{"i":8,"t":6.32,"v":-0.173},
{"i":8,"t":6.6,"v":-0.198},{"i":8,"t":6.88,"v":-0.22},{"i":8,"t":7.16,"v":-0.24},{"i":8,"t":7.44,"v":-0.255},{"i":8,"t":7.72,"v":-0.268},{"i":8,"t":8,"v":-0.276},{"i":8,"t":8.28,"v":-0.276},{"i":8,"t":8.56,"v":-0.273},{"i":8,"t":8.84,"v":-0.267},{"i":8,"t":9.12,"v":-0.26},
{"i":8,"t":9.4,"v":-0.251},{"i":8,"t":9.68,"v":-0.244},{"i":8,"t":9.96,"v":-0.239},{"i":8,"t":10.24,"v":-0.232},{"i":8,"t":10.52,"v":-0.225},{"i":8,"t":10.8,"v":-0.217},{"i":8,"t":11.08,"v":-0.213},{"i":8,"t":11.36,"v":-0.212},{"i":8,"t":11.64,"v":-0.215},{"i":8,"t":11.92,"v":-0.22},
{"i":8,"t":12.2,"v":-0.229},{"i":8,"t":12.48,"v":-0.238},{"i":8,"t":12.76,"v":-0.247},{"i":8,"t":13.04,"v":-0.252},{"i":8,"t":13.32,"v":-0.253},{"i":8,"t":13.6,"v":-0.253},{"i":8,"t":13.88,"v":-0.25},{"i":8,"t":14.16,"v":-0.24},{"i":8,"t":14.44,"v":-0.218},{"i":8,"t":14.72,"v":-0.193},{"i":8,"t":15,"v":-0.175},
{"i":9,"t":1,"v":0},{"i":9,"t":1.28,"v":0},{"i":9,"t":1.56,"v":0},{"i":9,"t":1.84,"v":0},{"i":9,"t":2.12,"v":0},{"i":9,"t":2.4,"v":0.001},{"i":9,"t":2.68,"v":0.001},{"i":9,"t":2.96,"v":0.001},{"i":9,"t":3.24,"v":0.002},{"i":9,"t":3.52,"v":0.002},
{"i":9,"t":3.8,"v":0.003},{"i":9,"t":4.08,"v":0.004},{"i":9,"t":4.36,"v":0.006},{"i":9,"t":4.64,"v":0.008},{"i":9,"t":4.92,"v":0.01},{"i":9,"t":5.2,"v":0.012},{"i":9,"t":5.48,"v":0.015},{"i":9,"t":5.76,"v":0.02},{"i":9,"t":6.04,"v":0.026},{"i":9,"t":6.32,"v":0.033},
{"i":9,"t":6.6,"v":0.046},{"i":9,"t":6.88,"v":0.06},{"i":9,"t":7.16,"v":0.077},{"i":9,"t":7.44,"v":0.096},{"i":9,"t":7.72,"v":0.122},{"i":9,"t":8,"v":0.151},{"i":9,"t":8.28,"v":0.18},{"i":9,"t":8.56,"v":0.21},{"i":9,"t":8.84,"v":0.24},{"i":9,"t":9.12,"v":0.263},
{"i":9,"t":9.4,"v":0.283},{"i":9,"t":9.68,"v":0.301},{"i":9,"t":9.96,"v":0.307},{"i":9,"t":10.24,"v":0.308},{"i":9,"t":10.52,"v":0.294},{"i":9,"t":10.8,"v":0.274},{"i":9,"t":11.08,"v":0.254},{"i":9,"t":11.36,"v":0.228},{"i":9,"t":11.64,"v":0.199},{"i":9,"t":11.92,"v":0.174},
{"i":9,"t":12.2,"v":0.15},{"i":9,"t":12.48,"v":0.13},{"i":9,"t":12.76,"v":0.117},{"i":9,"t":13.04,"v":0.106},{"i":9,"t":13.32,"v":0.1},{"i":9,"t":13.6,"v":0.093},{"i":9,"t":13.88,"v":0.087},{"i":9,"t":14.16,"v":0.076},{"i":9,"t":14.44,"v":0.065},{"i":9,"t":14.72,"v":0.06},{"i":9,"t":15,"v":0.058},
{"i":10,"t":1,"v":0},{"i":10,"t":1.28,"v":0},{"i":10,"t":1.56,"v":0},{"i":10,"t":1.84,"v":-0.001},{"i":10,"t":2.12,"v":-0.001},{"i":10,"t":2.4,"v":-0.002},{"i":10,"t":2.68,"v":-0.002},{"i":10,"t":2.96,"v":-0.003},{"i":10,"t":3.24,"v":-0.004},{"i":10,"t":3.52,"v":-0.005},
{"i":10,"t":3.8,"v":-0.007},{"i":10,"t":4.08,"v":-0.009},{"i":10,"t":4.36,"v":-0.011},{"i":10,"t":4.64,"v":-0.016},{"i":10,"t":4.92,"v":-0.019},{"i":10,"t":5.2,"v":-0.022},{"i":10,"t":5.48,"v":-0.03},{"i":10,"t":5.76,"v":-0.04},{"i":10,"t":6.04,"v":-0.054},{"i":10,"t":6.32,"v":-0.07},
{"i":10,"t":6.6,"v":-0.088},{"i":10,"t":6.88,"v":-0.111},{"i":10,"t":7.16,"v":-0.137},{"i":10,"t":7.44,"v":-0.162},{"i":10,"t":7.72,"v":-0.192},{"i":10,"t":8,"v":-0.22},{"i":10,"t":8.28,"v":-0.247},{"i":10,"t":8.56,"v":-0.27},{"i":10,"t":8.84,"v":-0.296},{"i":10,"t":9.12,"v":-0.313},
{"i":10,"t":9.4,"v":-0.327},{"i":10,"t":9.68,"v":-0.336},{"i":10,"t":9.96,"v":-0.337},{"i":10,"t":10.24,"v":-0.335},{"i":10,"t":10.52,"v":-0.325},{"i":10,"t":10.8,"v":-0.31},{"i":10,"t":11.08,"v":-0.292},{"i":10,"t":11.36,"v":-0.268},{"i":10,"t":11.64,"v":-0.243},{"i":10,"t":11.92,"v":-0.225},
{"i":10,"t":12.2,"v":-0.205},{"i":10,"t":12.48,"v":-0.186},{"i":10,"t":12.76,"v":-0.172},{"i":10,"t":13.04,"v":-0.162},{"i":10,"t":13.32,"v":-0.157},{"i":10,"t":13.6,"v":-0.154},{"i":10,"t":13.88,"v":-0.149},{"i":10,"t":14.16,"v":-0.145},{"i":10,"t":14.44,"v":-0.137},{"i":10,"t":14.72,"v":-0.123},{"i":10,"t":15,"v":-0.11},
{"i":11,"t":1,"v":0},{"i":11,"t":1.28,"v":0},{"i":11,"t":1.56,"v":0},{"i":11,"t":1.84,"v":0},{"i":11,"t":2.12,"v":0},{"i":11,"t":2.4,"v":0},{"i":11,"t":2.68,"v":0},{"i":11,"t":2.96,"v":0},{"i":11,"t":3.24,"v":0},{"i":11,"t":3.52,"v":0},
{"i":11,"t":3.8,"v":0},{"i":11,"t":4.08,"v":0.001},{"i":11,"t":4.36,"v":0.001},{"i":11,"t":4.64,"v":0.002},{"i":11,"t":4.92,"v":0.003},{"i":11,"t":5.2,"v":0.004},{"i":11,"t":5.48,"v":0.007},{"i":11,"t":5.76,"v":0.008},{"i":11,"t":6.04,"v":0.011},{"i":11,"t":6.32,"v":0.014},
{"i":11,"t":6.6,"v":0.018},{"i":11,"t":6.88,"v":0.022},{"i":11,"t":7.16,"v":0.028},{"i":11,"t":7.44,"v":0.036},{"i":11,"t":7.72,"v":0.052},{"i":11,"t":8,"v":0.066},{"i":11,"t":8.28,"v":0.085},{"i":11,"t":8.56,"v":0.106},{"i":11,"t":8.84,"v":0.13},{"i":11,"t":9.12,"v":0.16},
{"i":11,"t":9.4,"v":0.188},{"i":11,"t":9.68,"v":0.217},{"i":11,"t":9.96,"v":0.24},{"i":11,"t":10.24,"v":0.258},{"i":11,"t":10.52,"v":0.272},{"i":11,"t":10.8,"v":0.275},{"i":11,"t":11.08,"v":0.268},{"i":11,"t":11.36,"v":0.248},{"i":11,"t":11.64,"v":0.219},{"i":11,"t":11.92,"v":0.186},
{"i":11,"t":12.2,"v":0.144},{"i":11,"t":12.48,"v":0.1},{"i":11,"t":12.76,"v":0.058},{"i":11,"t":13.04,"v":0.02},{"i":11,"t":13.32,"v":-0.01},{"i":11,"t":13.6,"v":-0.033},{"i":11,"t":13.88,"v":-0.046},{"i":11,"t":14.16,"v":-0.049},{"i":11,"t":14.44,"v":-0.045},{"i":11,"t":14.72,"v":-0.037},{"i":11,"t":15,"v":-0.028},
{"i":12,"t":1,"v":0},{"i":12,"t":1.28,"v":0},{"i":12,"t":1.56,"v":0},{"i":12,"t":1.84,"v":0},{"i":12,"t":2.12,"v":0},{"i":12,"t":2.4,"v":-0.001},{"i":12,"t":2.68,"v":-0.001},{"i":12,"t":2.96,"v":-0.001},{"i":12,"t":3.24,"v":-0.001},{"i":12,"t":3.52,"v":-0.002},
{"i":12,"t":3.8,"v":-0.002},{"i":12,"t":4.08,"v":-0.003},{"i":12,"t":4.36,"v":-0.004},{"i":12,"t":4.64,"v":-0.005},{"i":12,"t":4.92,"v":-0.006},{"i":12,"t":5.2,"v":-0.008},{"i":12,"t":5.48,"v":-0.01},{"i":12,"t":5.76,"v":-0.011},{"i":12,"t":6.04,"v":-0.016},{"i":12,"t":6.32,"v":-0.021},
{"i":12,"t":6.6,"v":-0.03},{"i":12,"t":6.88,"v":-0.041},{"i":12,"t":7.16,"v":-0.055},{"i":12,"t":7.44,"v":-0.072},{"i":12,"t":7.72,"v":-0.095},{"i":12,"t":8,"v":-0.119},{"i":12,"t":8.28,"v":-0.147},{"i":12,"t":8.56,"v":-0.178},{"i":12,"t":8.84,"v":-0.211},{"i":12,"t":9.12,"v":-0.246},
{"i":12,"t":9.4,"v":-0.279},{"i":12,"t":9.68,"v":-0.315},{"i":12,"t":9.96,"v":-0.342},{"i":12,"t":10.24,"v":-0.362},{"i":12,"t":10.52,"v":-0.376},{"i":12,"t":10.8,"v":-0.379},{"i":12,"t":11.08,"v":-0.371},{"i":12,"t":11.36,"v":-0.352},{"i":12,"t":11.64,"v":-0.32},{"i":12,"t":11.92,"v":-0.28},
{"i":12,"t":12.2,"v":-0.236},{"i":12,"t":12.48,"v":-0.184},{"i":12,"t":12.76,"v":-0.133},{"i":12,"t":13.04,"v":-0.085},{"i":12,"t":13.32,"v":-0.037},{"i":12,"t":13.6,"v":-0.001},{"i":12,"t":13.88,"v":0.026},{"i":12,"t":14.16,"v":0.043},{"i":12,"t":14.44,"v":0.052},{"i":12,"t":14.72,"v":0.05},{"i":12,"t":15,"v":0.044}
]
},
"hconcat":[
{"bounds":"flush","hconcat":[
{"width":385,"height":468,
"layer":[
{"data":{"name":"a"},
"mark":{"type":"point","size":30,"strokeWidth":1,"opacity":1,"clip":true},
"encoding":{
"x":{"field":"t","type":"quantitative","scale":{"domain":[1,50],"nice":false,"zero":false},
"axis":{"orient":"bottom","values":[10,20,30,40,50],"labelPadding":29,"labelFlush":false,"labelOverlap":false,"title":"t [1/J<ij>]","titlePadding":14}},
"y":{"field":"v","type":"quantitative","scale":{"domain":[-0.4,0.45],"nice":false,"zero":false},
"axis":{"orient":"left","values":[-0.4,-0.3,-0.2,-0.1,0,0.1,0.2,0.3,0.4],"labelPadding":26,"labelOverlap":false,"labelExpr":"datum.value == 0 ? '0' : (datum.value < 0 ? '-' + format(-datum.value, '.1f') : format(datum.value, '.1f'))","title":"Spin polarization <sz(i)>","titlePadding":45}},
"shape":{"field":"i","type":"nominal","legend":null,"scale":{"domain":[1,2,3,4,5,6,7,8,9,10,11,12],"range":["M-1,0H1M0,-1V1","M-0.75,-0.75L0.75,0.75M-0.75,0.75L0.75,-0.75","M-1,0H1M0,-1V1M-0.75,-0.75L0.75,0.75M-0.75,0.75L0.75,-0.75","square","square","circle","circle","triangle-up","triangle-up","triangle-down","triangle-down","diamond"]}},
"stroke":{"field":"i","type":"nominal","legend":null,"scale":{"domain":[1,2,3,4,5,6,7,8,9,10,11,12],"range":["#f08a8a","#8fe08f","#7a7ae6","#e0a0e6","#30e8f0","#eee870","#000000","#f0a080","#808080","#e88888","#22dd22","#8c8cf0"]}},
"fill":{"field":"i","type":"nominal","legend":null,"scale":{"domain":[1,2,3,4,5,6,7,8,9,10,11,12],"range":["transparent","transparent","transparent","transparent","#30e8f0","transparent","#000000","transparent","#808080","transparent","#22dd22","transparent"]}}
}},
{"data":{"name":"al"},"transform":[{"filter":"datum.i != 7 && datum.i != 11"}],
"mark":{"type":"line","strokeWidth":5,"interpolate":"monotone","clip":true,"opacity":0.9},
"encoding":{"x":{"field":"t","type":"quantitative","axis":null},"y":{"field":"v","type":"quantitative","axis":null},
"color":{"field":"i","type":"nominal","legend":null,"scale":{"domain":[3,4,5,6,7,8,9,10,11,12],"range":["#5a5af0","#e080f0","#20e0f0","#f5d070","#000000","#f5a060","#808080","#f08080","#20a040","#8080f0"]}}}},
{"data":{"name":"al"},"transform":[{"filter":"datum.i == 7"}],
"mark":{"type":"line","strokeWidth":8,"interpolate":"monotone","clip":true},
"encoding":{"x":{"field":"t","type":"quantitative","axis":null},"y":{"field":"v","type":"quantitative","axis":null},
"color":{"field":"i","type":"nominal","legend":null}}},
{"data":{"name":"al"},"transform":[{"filter":"datum.i == 11"}],
"mark":{"type":"line","strokeWidth":5,"interpolate":"monotone","clip":true},
"encoding":{"x":{"field":"t","type":"quantitative","axis":null},"y":{"field":"v","type":"quantitative","axis":null},
"color":{"field":"i","type":"nominal","legend":null}}},
{"data":{"values":[{}]},
"mark":{"type":"text","text":"(a)","align":"left","baseline":"middle","fontSize":27,"font":"Liberation Serif"},
"encoding":{
"x":{"datum":2.1,"type":"quantitative","axis":{"orient":"top","values":[10,20,30,40],"labels":false,"title":null,"minExtent":0,"maxExtent":0}},
"y":{"datum":0.4,"type":"quantitative","axis":{"orient":"right","values":[-0.4,-0.3,-0.2,-0.1,0,0.1,0.2,0.3,0.4],"labels":false,"title":null,"minExtent":0,"maxExtent":0}}}}
],
"resolve":{"axis":{"x":"independent","y":"independent"}}
},
{"width":383,"height":468,
"layer":[
{"data":{"name":"b"},
"mark":{"type":"point","size":49,"strokeWidth":1,"opacity":1,"clip":true},
"encoding":{
"x":{"field":"t","type":"quantitative","scale":{"domain":[1,15],"nice":false,"zero":false},
"axis":{"orient":"bottom","values":[5,10,15],"labelPadding":29,"labelFlush":false,"labelOverlap":false,"title":"t [1/J<ij>]","titlePadding":14}},
"y":{"field":"v","type":"quantitative","scale":{"domain":[-0.4,0.45],"nice":false,"zero":false},
"axis":{"orient":"left","values":[-0.4,-0.3,-0.2,-0.1,0,0.1,0.2,0.3,0.4],"labels":false,"title":null,"minExtent":0,"maxExtent":0}},
"shape":{"field":"i","type":"nominal","legend":null,"scale":{"domain":[1,2,3,4,5,6,7,8,9,10,11,12],"range":["M-1,0H1M0,-1V1","M-0.75,-0.75L0.75,0.75M-0.75,0.75L0.75,-0.75","M-1,0H1M0,-1V1M-0.75,-0.75L0.75,0.75M-0.75,0.75L0.75,-0.75","square","square","circle","circle","triangle-up","triangle-up","triangle-down","triangle-down","diamond"]}},
"stroke":{"field":"i","type":"nominal","legend":null,"scale":{"domain":[1,2,3,4,5,6,7,8,9,10,11,12],"range":["#f08a8a","#8fe08f","#7a7ae6","#e0a0e6","#30e8f0","#eee870","#000000","#f0a080","#808080","#e88888","#22dd22","#8c8cf0"]}},
"fill":{"field":"i","type":"nominal","legend":null,"scale":{"domain":[1,2,3,4,5,6,7,8,9,10,11,12],"range":["transparent","transparent","transparent","transparent","#30e8f0","transparent","#000000","transparent","#808080","transparent","#22dd22","transparent"]}}
}},
{"data":{"values":[{}]},
"mark":{"type":"text","text":"(b)","align":"left","baseline":"middle","fontSize":27,"font":"Liberation Serif"},
"encoding":{
"x":{"datum":1.3,"type":"quantitative","axis":{"orient":"top","values":[5,10],"labels":false,"title":null,"minExtent":0,"maxExtent":0}},
"y":{"datum":0.4,"type":"quantitative","axis":{"orient":"right","values":[-0.4,-0.3,-0.2,-0.1,0,0.1,0.2,0.3,0.4],"labels":false,"title":null,"minExtent":0,"maxExtent":0}}}}
],
"resolve":{"axis":{"x":"independent","y":"independent"}}
}
],"spacing":12},
{"vconcat":[
{"width":168,"height":45,"data":{"values":[]},"mark":"point","view":{"stroke":null}},
{"width":168,"height":335,"view":{"stroke":"#999"},"data":{"name":"leg"},
"layer":[
{"mark":{"type":"text","align":"right","baseline":"middle","fontSize":27,"font":"Liberation Serif"},
"encoding":{
"x":{"datum":"lab","type":"nominal","scale":{"type":"point","domain":["lab","sym"],"range":[70,122]},"axis":null},
"y":{"field":"i","type":"ordinal","scale":{"type":"point","padding":0.5},"axis":null},
"text":{"field":"lab","type":"nominal"}}},
{"mark":{"type":"point","size":49,"strokeWidth":1,"opacity":1},
"encoding":{
"x":{"datum":"sym","type":"nominal","axis":null},
"y":{"field":"i","type":"ordinal","axis":null},
"shape":{"field":"i","type":"nominal","legend":null,"scale":{"domain":[1,2,3,4,5,6,7,8,9,10,11,12],"range":["M-1,0H1M0,-1V1","M-0.75,-0.75L0.75,0.75M-0.75,0.75L0.75,-0.75","M-1,0H1M0,-1V1M-0.75,-0.75L0.75,0.75M-0.75,0.75L0.75,-0.75","square","square","circle","circle","triangle-up","triangle-up","triangle-down","triangle-down","diamond"]}},
"stroke":{"field":"i","type":"nominal","legend":null,"scale":{"domain":[1,2,3,4,5,6,7,8,9,10,11,12],"range":["#f08a8a","#8fe08f","#7a7ae6","#e0a0e6","#30e8f0","#eee870","#000000","#f0a080","#808080","#e88888","#22dd22","#8c8cf0"]}},
"fill":{"field":"i","type":"nominal","legend":null,"scale":{"domain":[1,2,3,4,5,6,7,8,9,10,11,12],"range":["transparent","transparent","transparent","transparent","#30e8f0","transparent","#000000","transparent","#808080","transparent","#22dd22","transparent"]}}
}}
]}
],"spacing":20}
],
"spacing":38
}
